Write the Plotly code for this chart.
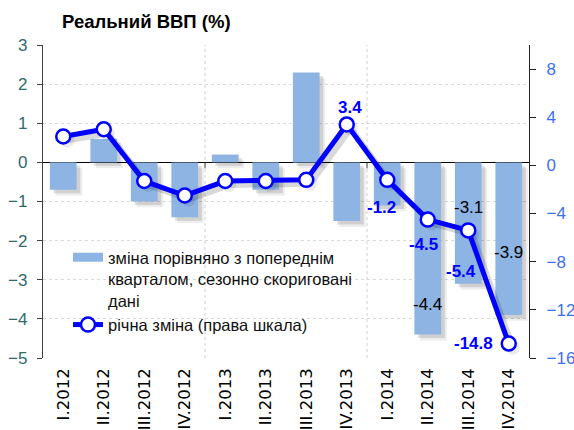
import numpy as np
import plotly.graph_objects as go

categories = ["I.2012", "II.2012", "III.2012", "IV.2012",
              "I.2013", "II.2013", "III.2013", "IV.2013",
              "I.2014", "II.2014", "III.2014", "IV.2014"]
qoq_change = [-0.7, 0.6, -1.0, -1.4, 0.2, -0.7, 2.3, -1.5, -1.1, -4.4, -3.1, -3.9]
yoy_change = [2.4, 3.0, -1.3, -2.5, -1.3, -1.3, -1.2, 3.4, -1.2, -4.5, -5.4, -14.8]

left_ticks = [3, 2, 1, 0, -1, -2, -3, -4, -5]
right_ticks = [8, 4, 0, -4, -8, -12, -16]

bar_name = "зміна порівняно з попереднім<br>кварталом, сезонно скориговані<br>дані"
line_name = "річна зміна (права шкала)"
title_text = "Реальний ВВП (%)"

# which points get labels, with their offsets (px)
bar_label_idx = [9, 10, 11]
bar_label_shift = [30, 76, 62]
line_label_idx = [7, 8, 9, 10, 11]
line_label_shift = [(3, 17), (-6, -28), (-4, -25), (-7, -41), (-35, 0)]

BAR_COLOR = "#8DB4E2"
LINE_COLOR = "#0000FF"
FONT = "Liberation Sans, Arial, sans-serif"

x = np.arange(len(categories))
bar_w = 0.66

fig = go.Figure()

# soft bar shadow (two layers), offsets in data units
for (sx, sy, a) in [(0.14, 0.15, 0.07), (0.09, 0.09, 0.12)]:
    fig.add_trace(go.Bar(
        x=x, y=qoq_change, base=[-sy] * len(x), width=bar_w, offset=-bar_w / 2 + sx,
        marker=dict(color=f"rgba(0,0,0,{a})", line=dict(width=0)),
        showlegend=False, hoverinfo="skip", yaxis="y"))
# bars
fig.add_trace(go.Bar(
    x=x, y=qoq_change, width=bar_w, name=bar_name, showlegend=False,
    marker=dict(color=BAR_COLOR, line=dict(width=0)), yaxis="y"))
# legend proxy for the bars (wide swatch)
fig.add_trace(go.Scatter(
    x=[None], y=[None], mode="lines", name=bar_name,
    line=dict(color=BAR_COLOR, width=9), yaxis="y"))
# line shadow
fig.add_trace(go.Scatter(
    x=x + 0.1, y=np.array(yoy_change) - 0.33, mode="lines+markers",
    line=dict(color="rgba(0,0,0,0.15)", width=6),
    marker=dict(size=14, color="rgba(0,0,0,0.08)"),
    showlegend=False, hoverinfo="skip", yaxis="y2"))
# line
fig.add_trace(go.Scatter(
    x=x, y=yoy_change, mode="lines+markers", name=line_name,
    line=dict(color=LINE_COLOR, width=5),
    marker=dict(size=14, color="white", line=dict(color=LINE_COLOR, width=2.5)),
    yaxis="y2"))

annotations = []
for i, s in zip(bar_label_idx, bar_label_shift):
    annotations.append(dict(x=x[i], y=qoq_change[i], xref="x", yref="y",
                            text=f"{qoq_change[i]:.1f}", showarrow=False,
                            yshift=s, font=dict(family=FONT, size=17, color="#000000")))
for i, (dx, dy) in zip(line_label_idx, line_label_shift):
    annotations.append(dict(x=x[i], y=yoy_change[i], xref="x", yref="y2",
                            text=f"<b>{yoy_change[i]:.1f}</b>", showarrow=False,
                            xshift=dx, yshift=dy,
                            font=dict(family=FONT, size=17, color=LINE_COLOR)))

shapes = []
for b in [3.5, 7.5]:
    shapes.append(dict(type="line", xref="x", yref="paper", x0=b, x1=b, y0=0, y1=1,
                       line=dict(color="#D0D0D0", width=1, dash="dot"), layer="below"))
    shapes.append(dict(type="line", xref="x", yref="y", x0=b, x1=b, y0=0, y1=-6,
                       ysizemode="pixel", yanchor=0,
                       line=dict(color="#404040", width=1)))

fig.update_layout(
    width=574, height=430,
    margin=dict(l=43, r=45, t=45, b=72, autoexpand=False),
    paper_bgcolor="white", plot_bgcolor="white",
    barmode="overlay",
    title=dict(text=f"<b>{title_text}</b>", x=62 / 574, xanchor="left", y=1 - 22 / 430,
               yanchor="middle", font=dict(family=FONT, size=18.5, color="#000000")),
    font=dict(family=FONT),
    xaxis=dict(range=[-0.5, 11.5], tickvals=list(x), ticktext=categories, tickangle=-90,
               showgrid=False, zeroline=False, showline=False, ticks="",
               tickfont=dict(family="DejaVu Sans, sans-serif", size=16.5, color="#000000"),
               ticklabelstandoff=6, automargin=False, ticklabeloverflow="allow"),
    yaxis=dict(range=[-5, 3], tickvals=left_ticks, showgrid=True,
               gridcolor="#D9D9D9", griddash="dot", gridwidth=1,
               zeroline=True, zerolinecolor="#000000", zerolinewidth=1.3,
               showline=True, linecolor="#404040", linewidth=1.3,
               ticks="outside", ticklen=5, tickcolor="#404040",
               tickfont=dict(family=FONT, size=17, color="#31696B"),
               ticklabelstandoff=6, automargin=False, ticklabeloverflow="allow"),
    yaxis2=dict(range=[-16, 10], tickvals=right_ticks, overlaying="y", side="right",
                showgrid=False, zeroline=False,
                showline=True, linecolor="#202020", linewidth=1.3,
                ticks="outside", ticklen=6, tickcolor="#202020",
                tickfont=dict(family=FONT, size=17, color="#3F6FF5"),
                ticklabelstandoff=7, automargin=False, ticklabeloverflow="allow"),
    legend=dict(x=(68 - 43) / 486, y=(358 - 240) / 313, xanchor="left", yanchor="top",
                bgcolor="rgba(0,0,0,0)", valign="top", traceorder="normal",
                font=dict(family=FONT, size=16.5, color="#111111"),
                tracegroupgap=0),
    annotations=annotations,
    shapes=shapes,
    showlegend=True,
)

fig.write_html("out.html", config={"displayModeBar": False},
               post_script="document.body.style.margin='0';")
